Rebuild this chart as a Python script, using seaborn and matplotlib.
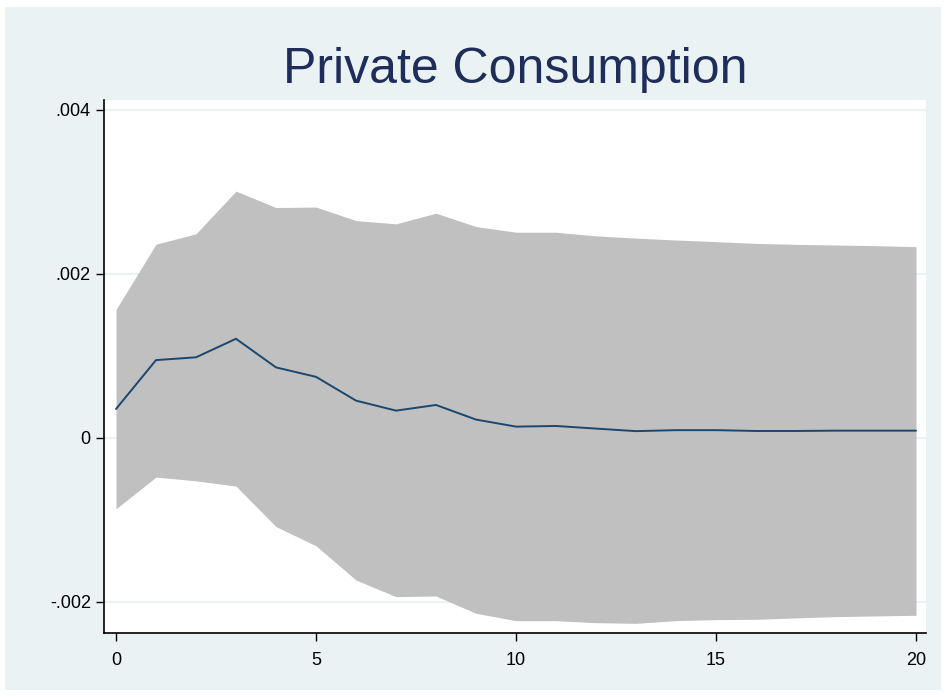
import numpy as np
import pandas as pd
import matplotlib
matplotlib.use("Agg")
import matplotlib.pyplot as plt
from matplotlib.patches import Rectangle
import seaborn as sns

# impulse response, horizon 0..20
steps = list(range(21))
irf = [0.353, 0.949, 0.983, 1.209, 0.860, 0.745, 0.455, 0.333, 0.402, 0.224, 0.138,
       0.146, 0.114, 0.083, 0.095, 0.095, 0.085, 0.085, 0.089, 0.089, 0.089]
upper = [1.566, 2.362, 2.489, 3.009, 2.809, 2.815, 2.650, 2.610, 2.740, 2.577, 2.508,
         2.508, 2.463, 2.436, 2.413, 2.393, 2.372, 2.360, 2.352, 2.344, 2.332]
lower = [-0.864, -0.477, -0.523, -0.587, -1.081, -1.315, -1.732, -1.935, -1.927, -2.138, -2.228,
         -2.228, -2.252, -2.260, -2.227, -2.215, -2.211, -2.194, -2.178, -2.170, -2.162]
ytick_vals = [-0.002, 0, 0.002, 0.004]
ytick_labels = ['-.002', '0', '.002', '.004']
xtick_vals = [0, 5, 10, 15, 20]

df = pd.DataFrame({'step': steps,
                   'irf': np.array(irf) / 1000,
                   'upper': np.array(upper) / 1000,
                   'lower': np.array(lower) / 1000})

sns.set_style("white")
plt.rcParams['font.family'] = ['Liberation Sans', 'DejaVu Sans']

fig = plt.figure(figsize=(9.48, 6.97), dpi=100)
fig.patch.set_facecolor('white')
fig.patches.append(Rectangle((5 / 948, 7 / 697), 936 / 948, 683 / 697,
                             transform=fig.transFigure, facecolor='#eaf2f3',
                             edgecolor='none', zorder=-5))

ax = fig.add_axes([104 / 948, 1 - 633 / 697, 822 / 948, 533 / 697])
ax.set_zorder(1)
ax.set_facecolor('white')

ax.fill_between(df['step'], df['lower'], df['upper'], color='#c0c0c0', linewidth=0, zorder=2)
sns.lineplot(data=df, x='step', y='irf', ax=ax, color='#1a476f', linewidth=1.4, zorder=3)

ax.set_xlim(-0.3, 20.25)
ax.set_ylim(-0.002378, 0.00412)
ax.set_xticks(xtick_vals)
ax.set_xticklabels([str(v) for v in xtick_vals])
ax.set_yticks(ytick_vals)
ax.set_yticklabels(ytick_labels)

ax.yaxis.grid(True, color='#eaf2f3', linewidth=1.5, zorder=1)
ax.xaxis.grid(False)
ax.set_axisbelow(True)

for side in ['top', 'right']:
    ax.spines[side].set_visible(False)
for side in ['left', 'bottom']:
    ax.spines[side].set_color('black')
    ax.spines[side].set_linewidth(1.2)

ax.tick_params(axis='both', direction='out', length=6, width=1, color='black',
               labelsize=13, labelcolor='black', left=True, bottom=True)
ax.tick_params(axis='x', pad=8)
ax.set_xlabel('')
ax.set_ylabel('')

fig.text(515 / 948, 1 - 70 / 697, 'Private Consumption', ha='center', va='center',
         fontsize=36, color='#1f2d5a')

fig.savefig('out.png', dpi=100)
